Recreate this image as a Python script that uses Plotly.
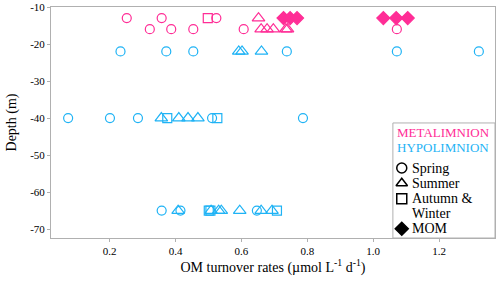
import plotly.graph_objects as go

PINK = "#ff2d96"
CYAN = "#1fb3f5"
FONT = "Liberation Serif"

# Metalimnion
meta_spring_x = [0.252, 0.358, 0.524, 0.322, 0.387, 0.454, 0.607, 1.072]
meta_spring_y = [-13, -13, -13, -16, -16, -16, -16, -16]
meta_summer_x = [0.652, 0.660, 0.678, 0.697, 0.735, 0.740]
meta_summer_y = [-13, -16, -16, -16, -16, -16]
meta_autumn_x = [0.498]
meta_autumn_y = [-13]
meta_mom_x = [0.728, 0.748, 0.769, 1.031, 1.070, 1.105]
meta_mom_y = [-13, -13, -13, -13, -13, -13]

# Hypolimnion
hypo_spring_x = [0.233, 0.372, 0.454, 0.738, 1.072, 1.321, 0.074, 0.201, 0.286, 0.511, 0.787, 0.358, 0.415, 0.647]
hypo_spring_y = [-22, -22, -22, -22, -22, -22, -40, -40, -40, -40, -40, -65, -65, -65]
hypo_summer_x = [0.592, 0.602, 0.661, 0.357, 0.410, 0.438, 0.468, 0.408, 0.508, 0.531, 0.539, 0.595, 0.660, 0.693]
hypo_summer_y = [-22, -22, -22, -40, -40, -40, -40, -65, -65, -65, -65, -65, -65, -65]
hypo_autumn_x = [0.375, 0.527, 0.501, 0.506, 0.708]
hypo_autumn_y = [-40, -40, -65, -65, -65]

x_tickvals = [0.2, 0.4, 0.6, 0.8, 1.0, 1.2]
x_ticktext = ["0.2", "0.4", "0.6", "0.8", "1.0", "1.2"]
y_tickvals = [-10, -20, -30, -40, -50, -60, -70]
y_ticktext = ["-10", "-20", "-30", "-40", "-50", "-60", "-70"]

legend_headers = ["METALIMNION", "HYPOLIMNION"]
legend_header_colors = [PINK, CYAN]
legend_names = ["Spring", "Summer", "Autumn &", "Winter", "MOM"]
legend_symbols = ["circle-open", "triangle-up-open", "square-open", None, "diamond"]

fig = go.Figure()

def add(xs, ys, color, symbol, size):
    fig.add_trace(go.Scatter(
        x=xs, y=ys, mode="markers", showlegend=False, hoverinfo="skip",
        marker=dict(symbol=symbol, color=color, size=size, line=dict(color=color, width=1.2)),
    ))

add(meta_spring_x, meta_spring_y, PINK, "circle-open", 9)
add(meta_summer_x, meta_summer_y, PINK, "triangle-up-open", 11)
add(meta_autumn_x, meta_autumn_y, PINK, "square-open", 9)
add(meta_mom_x, meta_mom_y, PINK, "diamond", 10)
add(hypo_spring_x, hypo_spring_y, CYAN, "circle-open", 9)
add(hypo_summer_x, hypo_summer_y, CYAN, "triangle-up-open", 11)
add(hypo_autumn_x, hypo_autumn_y, CYAN, "square-open", 9)

# ---- custom legend (layout positions in paper fractions) ----
lx0, lx1, ly0, ly1 = 0.770, 1.0, 0.0, 0.498
header_y = [0.455, 0.390]
item_y = [0.303, 0.237, 0.170, 0.107, 0.040]
sym_x = 0.790
text_x = 0.808

fig.add_shape(type="rect", xref="paper", yref="paper", x0=lx0, x1=lx1, y0=ly0, y1=ly1,
              line=dict(color="#b0b0b0", width=1), fillcolor="white", layer="below")
for txt, col, yy in zip(legend_headers, legend_header_colors, header_y):
    fig.add_annotation(x=0.774, y=yy, xref="paper", yref="paper", text=txt, showarrow=False,
                       xanchor="left", yanchor="middle", font=dict(color=col, size=13, family=FONT))
for txt, yy in zip(legend_names, item_y):
    fig.add_annotation(x=text_x, y=yy, xref="paper", yref="paper", text=txt, showarrow=False,
                       xanchor="left", yanchor="middle", font=dict(color="black", size=14, family=FONT))

key_x = [sym_x for s in legend_symbols if s]
key_y = [yy for s, yy in zip(legend_symbols, item_y) if s]
key_sym = [s for s in legend_symbols if s]
fig.add_trace(go.Scatter(
    x=key_x, y=key_y, xaxis="x2", yaxis="y2", mode="markers", showlegend=False, hoverinfo="skip",
    marker=dict(symbol=key_sym, color="black", size=10, line=dict(color="black", width=1.5)),
))

fig.update_layout(
    width=500, height=285,
    margin=dict(l=51, r=5, t=7, b=47, pad=0),
    paper_bgcolor="white", plot_bgcolor="white",
    font=dict(family=FONT, color="black"),
    showlegend=False,
    hovermode=False,
    xaxis=dict(
        range=[0.022, 1.37], tickvals=x_tickvals, ticktext=x_ticktext,
        showgrid=False, zeroline=False, showline=True, linecolor="#b0b0b0", mirror=True,
        ticks="outside", ticklen=3, tickcolor="#b0b0b0", automargin=False,
        tickfont=dict(size=11, family=FONT),
        title=dict(text="OM turnover rates (µmol L<sup>-1</sup> d<sup>-1</sup>)", font=dict(size=14, family=FONT), standoff=4),
    ),
    yaxis=dict(
        range=[-72.4, -10], tickvals=y_tickvals, ticktext=y_ticktext,
        showgrid=False, zeroline=False, showline=True, linecolor="#b0b0b0", mirror=True,
        ticks="outside", ticklen=3, tickcolor="#b0b0b0", automargin=False,
        tickfont=dict(size=11, family=FONT),
        title=dict(text="Depth (m)", font=dict(size=14, family=FONT), standoff=10),
    ),
    xaxis2=dict(overlaying="x", range=[0, 1], visible=False, fixedrange=True),
    yaxis2=dict(overlaying="y", range=[0, 1], visible=False, fixedrange=True),
)

fig.write_html("out.html", config={"displayModeBar": False, "staticPlot": True},
               post_script="document.body.style.margin='0';")
